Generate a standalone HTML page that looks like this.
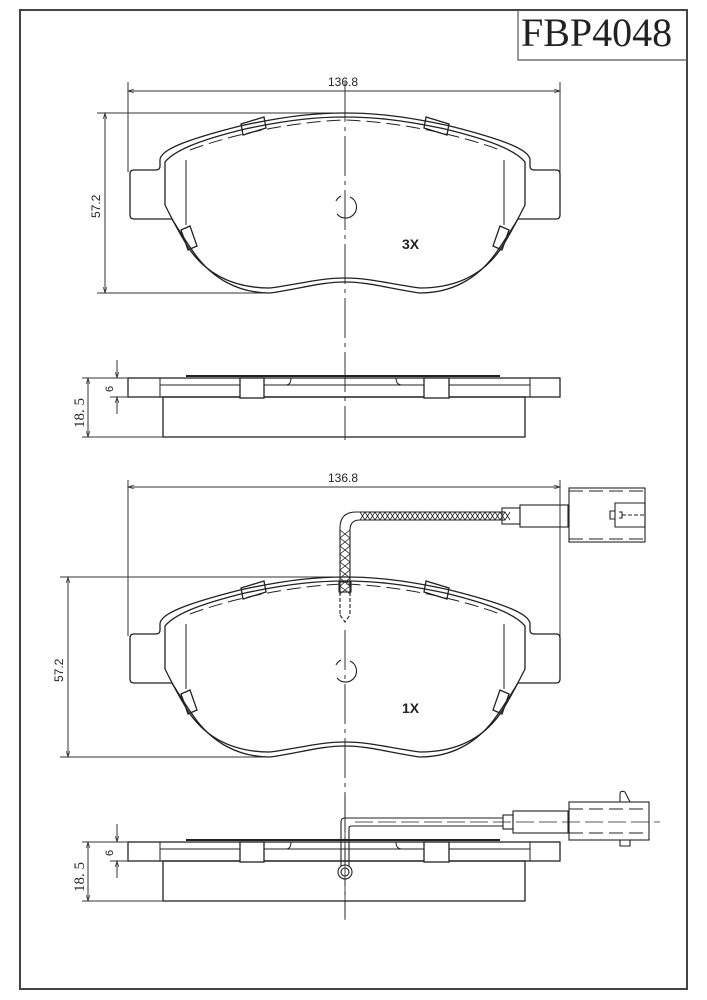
<!DOCTYPE html>
<html><head><meta charset="utf-8"><style>
html,body{margin:0;padding:0;background:#fff;}
svg{display:block;}
text{font-family:"Liberation Sans",sans-serif;fill:#222;}
</style></head><body>
<svg width="707" height="1000" viewBox="0 0 707 1000" xmlns="http://www.w3.org/2000/svg">
<defs>
<marker id="ar" viewBox="0 0 10 10" refX="10" refY="5" markerWidth="8" markerHeight="6" orient="auto-start-reverse"><path d="M0,2 L10,5 L0,8" fill="none" stroke="#333" stroke-width="1.2"/></marker>
<g id="pad" fill="none" stroke="#222" stroke-width="1.3">
  <path d="M160,160 C160,150 185,140 240,126 C290,115 320,113 345,113 C370,113 400,115 450,126 C505,140 530,150 530,160 L530,166 C530,170 533,170 536,170 L556,170 Q560,170 560,174 L560,215 Q560,219 556,219 L518,219 C510,232 505,240 498,250 C478,280 450,293 420,293 C390,289 370,282 345,282 C320,282 300,289 270,293 C240,293 212,280 192,250 C185,240 180,232 172,219 L134,219 Q130,219 130,215 L130,174 Q130,170 134,170 L154,170 C157,170 160,170 160,166 Z"/>
  <path d="M165,162 C175,150 200,140 245,129 C292,119 320,117 345,117 C370,117 398,119 445,129 C490,140 515,150 525,162 L525,205 C515,225 508,238 500,250 C480,278 452,288 420,288 C390,284 370,278 345,278 C320,278 300,284 270,288 C238,288 210,278 190,250 C182,238 175,225 165,205 Z"/>
  <path d="M186,160 L186,225 M504,160 L504,225" stroke-width="1"/>
  <path d="M190,150 C230,135 290,122 345,120 C400,122 460,135 500,150" stroke-dasharray="14,6" stroke-width="1"/>
  <path d="M241,124 L264,117 L266,128 L243,135 Z M426,117 L449,124 L447,135 L424,128 Z"/>
  <path d="M181,230 L190,226 L197,246 L188,250 Z M509,230 L500,226 L493,246 L502,250 Z"/>
  <path d="M350,197 A11,11 0 1,1 337,214" stroke-width="1.1"/>
  <path d="M336,201 A11,11 0 0,1 341,196" stroke-width="1.1"/>
</g>
<g id="side" fill="none" stroke="#222" stroke-width="1.3">
  <rect x="128" y="378" width="432" height="19"/>
  <path d="M160,378 L160,397 M530,378 L530,397 M160,385 L530,385" stroke-width="1"/>
  <path d="M186,376 L500,376" stroke-width="2"/>
  <rect x="163" y="397" width="362" height="40"/>
  <rect x="240" y="378" width="24" height="20" fill="#fff"/>
  <rect x="424" y="378" width="25" height="20" fill="#fff"/>
  <path d="M291,378 Q291,385 286,385 M396,378 Q396,385 402,385" stroke-width="1"/>
</g>
</defs>

<rect x="20" y="10" width="667" height="979" fill="none" stroke="#444" stroke-width="2"/>
<path d="M518,10 L518,60 L687,60" fill="none" stroke="#555" stroke-width="1.2"/>
<text x="521" y="46" style="font-family:'Liberation Serif',serif" font-size="40">FBP4048</text>

<g stroke="#333" stroke-width="1" fill="none">
  <line x1="128" y1="82" x2="128" y2="172"/>
  <line x1="560" y1="82" x2="560" y2="172"/>
  <line x1="128" y1="91" x2="560" y2="91" marker-start="url(#ar)" marker-end="url(#ar)"/>
  <line x1="97" y1="113" x2="345" y2="113"/>
  <line x1="97" y1="293" x2="262" y2="293"/>
  <line x1="105" y1="113" x2="105" y2="293" marker-start="url(#ar)" marker-end="url(#ar)"/>
  <line x1="345" y1="82" x2="345" y2="440" stroke-dasharray="40,5,4,5"/>
</g>
<text x="328" y="86" font-size="12">136.8</text>
<text font-size="12" transform="translate(100,218) rotate(-90)">57.2</text>
<use href="#pad"/>
<text x="402" y="249" font-size="14" font-weight="bold">3X</text>

<use href="#side"/>
<g stroke="#333" stroke-width="1" fill="none">
  <line x1="82" y1="378" x2="128" y2="378"/>
  <line x1="82" y1="437" x2="163" y2="437"/>
  <line x1="88" y1="378" x2="88" y2="437" marker-start="url(#ar)" marker-end="url(#ar)"/>
  <line x1="110" y1="397" x2="128" y2="397"/>
  <line x1="117" y1="360" x2="117" y2="378" marker-end="url(#ar)"/>
  <line x1="117" y1="414" x2="117" y2="397" marker-end="url(#ar)"/>
</g>
<text font-size="15" style="font-family:'Liberation Serif',serif" transform="translate(84,428) rotate(-90)">18. 5</text>
<text font-size="11" transform="translate(113,392) rotate(-90)">6</text>

<g stroke="#333" stroke-width="1" fill="none">
  <line x1="128" y1="480" x2="128" y2="636"/>
  <line x1="560" y1="480" x2="560" y2="636"/>
  <line x1="128" y1="487" x2="560" y2="487" marker-start="url(#ar)" marker-end="url(#ar)"/>
  <line x1="60" y1="577" x2="345" y2="577"/>
  <line x1="60" y1="757" x2="262" y2="757"/>
  <line x1="68" y1="577" x2="68" y2="757" marker-start="url(#ar)" marker-end="url(#ar)"/>
  <line x1="345" y1="630" x2="345" y2="918" stroke-dasharray="40,5,4,5"/>
</g>
<text x="328" y="482" font-size="12">136.8</text>
<text font-size="12" transform="translate(63,682) rotate(-90)">57.2</text>
<use href="#pad" y="464"/>
<text x="402" y="713" font-size="14" font-weight="bold">1X</text>

<g stroke="#222" stroke-width="1.1" fill="none">
  <path d="M340,595 L340,528 Q340,512 356,512 L505,512"/>
  <path d="M350,595 L350,530 Q350,520 360,520 L505,520"/>
  <path d="M360,520 l5,-8 l5,8 l5,-8 l5,8 l5,-8 l5,8 l5,-8 l5,8 l5,-8 l5,8 l5,-8 l5,8 l5,-8 l5,8 l5,-8 l5,8 l5,-8 l5,8 l5,-8 l5,8 l5,-8 l5,8 l5,-8 l5,8 l5,-8 l5,8 l5,-8 l5,8 l5,-8 l5,8" stroke-width="0.8"/>
  <path d="M360,512 l5,8 l5,-8 l5,8 l5,-8 l5,8 l5,-8 l5,8 l5,-8 l5,8 l5,-8 l5,8 l5,-8 l5,8 l5,-8 l5,8 l5,-8 l5,8 l5,-8 l5,8 l5,-8 l5,8 l5,-8 l5,8 l5,-8 l5,8 l5,-8 l5,8 l5,-8 l5,8 l5,-8" stroke-width="0.8"/>
  <path d="M340,530 l10,8 l-10,8 l10,8 l-10,8 l10,8 l-10,8 l10,8 l-10,8" stroke-width="0.8"/>
  <path d="M350,530 l-10,8 l10,8 l-10,8 l10,8 l-10,8 l10,8 l-10,8 l10,8" stroke-width="0.8"/>
  <rect x="339" y="582" width="12" height="10"/>
  <path d="M340,592 L340,615 M350,592 L350,615 M340,615 L345,622 L350,615" stroke-dasharray="4,2"/>
  <rect x="502" y="508" width="18" height="16"/>
  <rect x="520" y="505" width="48" height="22"/>
  <rect x="569" y="488" width="76" height="54"/>
  <path d="M569,491 L645,491 M569,539 L645,539" stroke-dasharray="14,6"/>
  <path d="M615,503 L645,503 L645,527 L615,527 Z M610,511 L615,511 L615,519 L610,519 Z M619,512 L622,512 L622,518 L619,518"/>
  <path d="M622,515 L645,515" stroke-dasharray="4,2"/>
</g>

<use href="#side" y="464"/>
<g stroke="#333" stroke-width="1" fill="none">
  <line x1="82" y1="842" x2="128" y2="842"/>
  <line x1="82" y1="901" x2="163" y2="901"/>
  <line x1="88" y1="842" x2="88" y2="901" marker-start="url(#ar)" marker-end="url(#ar)"/>
  <line x1="110" y1="861" x2="128" y2="861"/>
  <line x1="117" y1="824" x2="117" y2="842" marker-end="url(#ar)"/>
  <line x1="117" y1="878" x2="117" y2="861" marker-end="url(#ar)"/>
</g>
<text font-size="15" style="font-family:'Liberation Serif',serif" transform="translate(84,892) rotate(-90)">18. 5</text>
<text font-size="11" transform="translate(113,856) rotate(-90)">6</text>

<g stroke="#222" stroke-width="1.1" fill="none">
  <path d="M341,868 L341,822 Q341,818 345,818 L503,818"/>
  <path d="M349,868 L349,828 Q349,826 352,826 L503,826"/>
  <circle cx="345" cy="872" r="7" fill="#fff"/>
  <circle cx="345" cy="872" r="4"/>
  <path d="M345,795 L345,920" stroke-width="0.8"/>
  <rect x="503" y="815" width="10" height="14"/>
  <rect x="513" y="811" width="55" height="22"/>
  <rect x="569" y="802" width="80" height="38"/>
  <path d="M569,809 L649,809 M569,833 L649,833" stroke-dasharray="14,6"/>
  <path d="M620,802 L620,794 Q620,790 625,792 L630,802 M620,840 L620,846 L630,846 L630,840"/>
  <path d="M355,822 L660,822" stroke-dasharray="18,5" stroke-width="0.8"/>
</g>
</svg>
</body></html>
